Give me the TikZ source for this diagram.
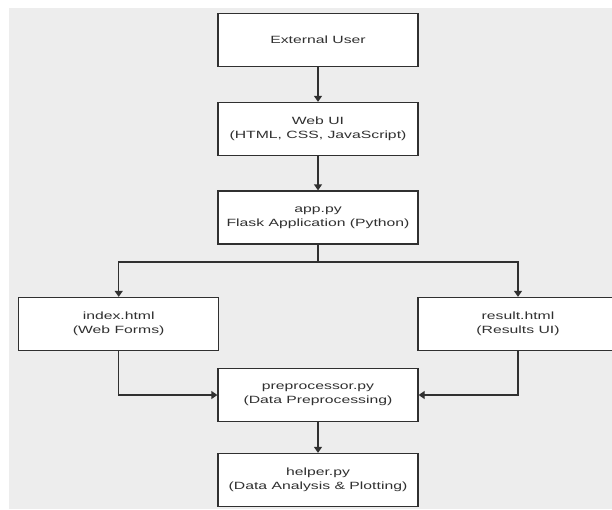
\documentclass[tikz,border=0pt]{standalone}
\usepackage{fontspec}
\setmainfont{Liberation Sans}[FakeStretch=1.5]
\usetikzlibrary{arrows.meta}
\definecolor{bggray}{HTML}{EDEDED}
\definecolor{ink}{HTML}{303030}
\tikzset{
  blk/.style={draw=ink, line width=1.3pt, fill=white, minimum width=200pt, minimum height=53pt,
    inner sep=0pt, align=center, text=ink, font=\fontsize{10.5pt}{14pt}\selectfont},
  conn/.style={draw=ink, line width=1.3pt, -{Triangle[length=6pt,width=8pt]}}
}
\begin{document}
\begin{tikzpicture}[x=1pt,y=-1pt]
\clip (0,0) rectangle (612,509);
\fill[white] (0,0) rectangle (612,509);
\fill[bggray] (8.5,7.5) rectangle (612,509);
\node[blk] (ext) at (318,40) {External User};
\node[blk] (web) at (318,129) {Web UI\\ (HTML, CSS, JavaScript)};
\node[blk] (app) at (318,217.5) {app.py\\Flask Application (Python)};
\node[blk] (idx) at (118.7,324) {index.html\\(Web Forms)};
\node[blk] (res) at (518,324) {result.html\\(Results UI)};
\node[blk] (pre) at (318,395) {preprocessor.py\\(Data Preprocessing)};
\node[blk] (hlp) at (318,480) {helper.py\\(Data Analysis \& Plotting)};
\coordinate (br) at (318,262);
\draw[conn] (ext) -- (web);
\draw[conn] (web) -- (app);
\draw[draw=ink, line width=1.3pt] (app) -- (br);
\draw[conn] (br) -| (idx);
\draw[conn] (br) -| (res);
\draw[conn] (idx) |- (pre);
\draw[conn] (res) |- (pre);
\draw[conn] (pre) -- (hlp);
\end{tikzpicture}
\end{document}
